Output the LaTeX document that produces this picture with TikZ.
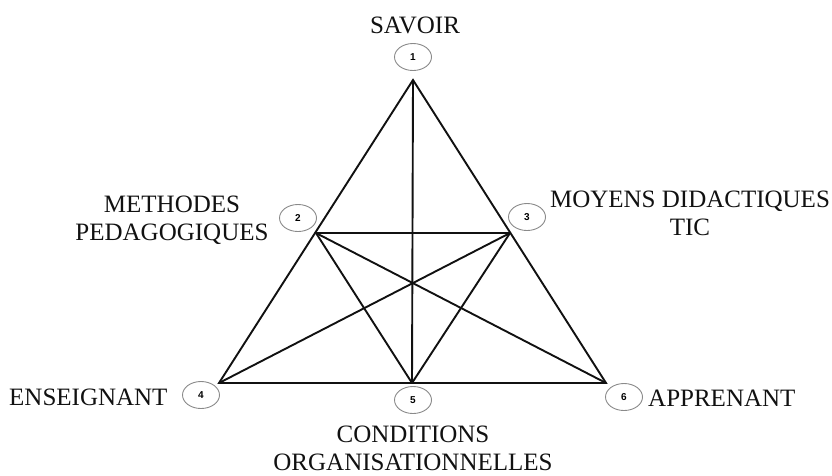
\documentclass[tikz,border=0pt]{standalone}
\usepackage{fontspec}
\setmainfont{Liberation Serif}
\newfontfamily\numfont{Liberation Sans}
\usetikzlibrary{shapes.geometric}
\definecolor{ink}{HTML}{111111}
\definecolor{ringgray}{HTML}{8A8A8A}

\begin{document}
\begin{tikzpicture}[
  x=1pt, y=-1pt,
  ring/.style={ellipse, draw=ringgray, line width=0.9pt, fill=white,
    minimum width=37pt, minimum height=27pt, inner sep=0pt, font=\numfont\bfseries\fontsize{10}{10}\selectfont},
  pole/.style={font=\fontsize{25}{28}\selectfont, text=ink, inner sep=0pt},
  edge/.style={line width=1.9pt, ink},
]
  \useasboundingbox (0,0) rectangle (832,475);

  % corners of the triangle and mid points
  \coordinate (v1) at (413,80);
  \coordinate (v2) at (316,233);
  \coordinate (v3) at (510,233);
  \coordinate (v4) at (219,383);
  \coordinate (v5) at (412,383);
  \coordinate (v6) at (606,383);

  \draw[edge] (v1) -- (v4) -- (v6) -- cycle;
  \draw[edge] (v1) -- (v5);
  \draw[edge] (v2) -- (v3);
  \draw[edge] (v2) -- (v5);
  \draw[edge] (v3) -- (v5);
  \draw[edge] (v2) -- (v6);
  \draw[edge] (v3) -- (v4);

  % numbered rings
  \node[ring] (c1) at (413,57) {1};
  \node[ring] (c2) at (298,218) {2};
  \node[ring] (c3) at (527,217) {3};
  \node[ring] (c4) at (201,395) {4};
  \node[ring] (c5) at (413,400) {5};
  \node[ring] (c6) at (624,397) {6};

  % labels (base = last line)
  \node[pole, anchor=base] (savoir) at (415,33) {SAVOIR};
  \node[pole, anchor=base, align=center] (methodes) at (172,240) {METHODES\\PEDAGOGIQUES};
  \node[pole, anchor=base, align=center] (moyens) at (690,235) {MOYENS DIDACTIQUES\\TIC};
  \node[pole, anchor=base west] (enseignant) at (9,405) {ENSEIGNANT};
  \node[pole, anchor=base, align=center] (conditions) at (413,470) {CONDITIONS\\ORGANISATIONNELLES};
  \node[pole, anchor=base west] (apprenant) at (648,406) {APPRENANT};
\end{tikzpicture}
\end{document}
